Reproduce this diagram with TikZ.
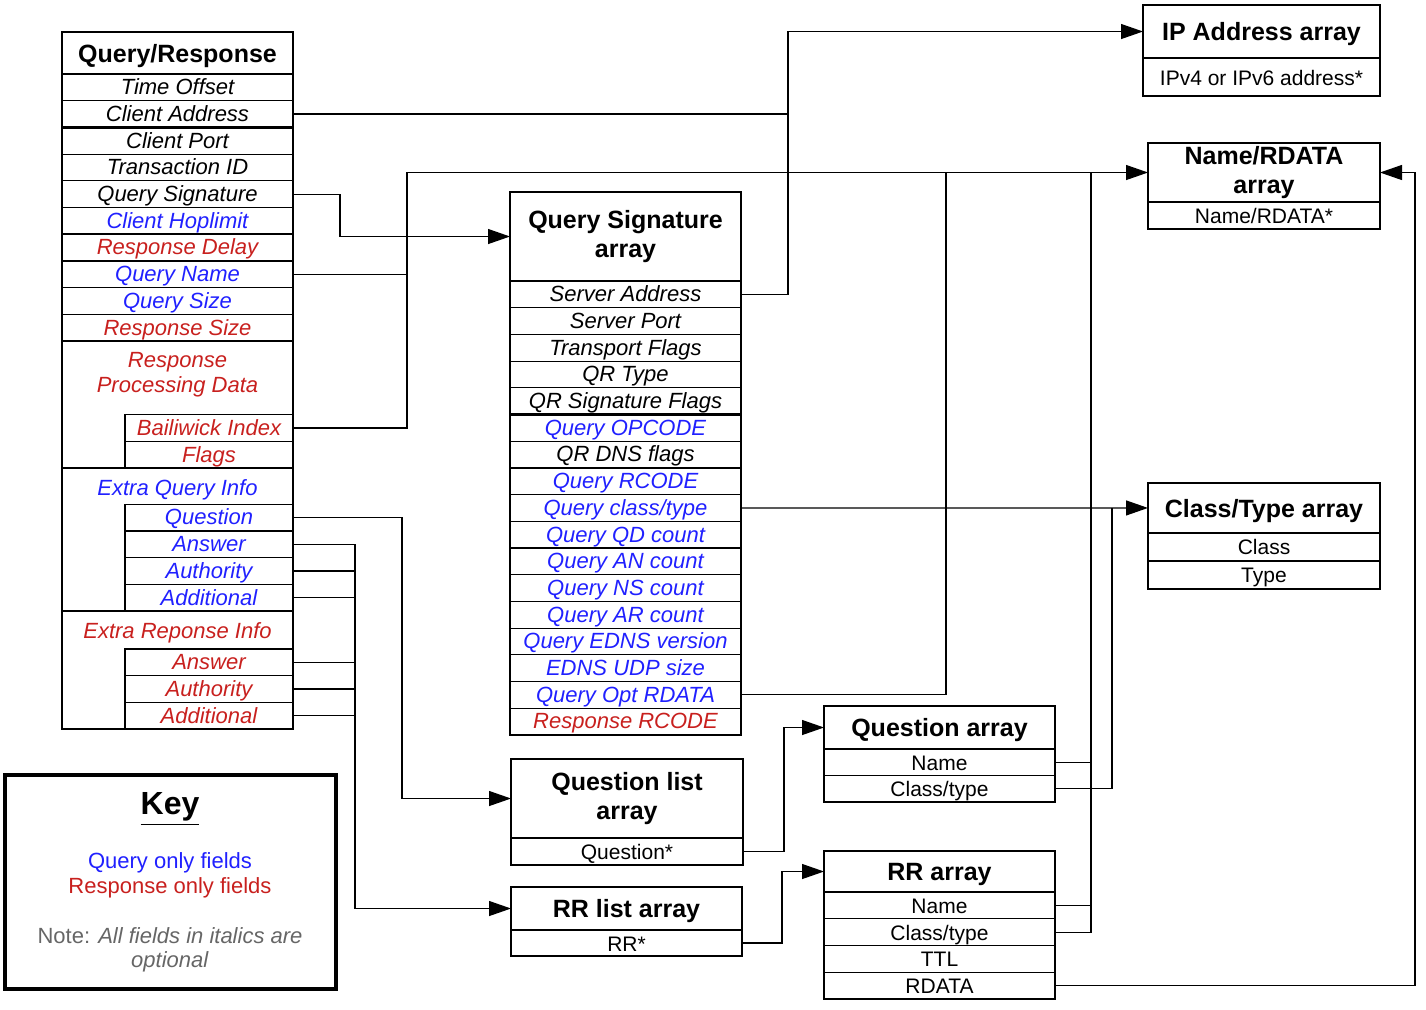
\documentclass[tikz,border=0pt]{standalone}
\usepackage{fontspec}
\setmainfont{Liberation Sans}
\usetikzlibrary{arrows.meta}
\definecolor{qblue}{RGB}{32,32,255}
\definecolor{rred}{RGB}{200,32,30}
\definecolor{notegray}{RGB}{102,102,102}
\newcommand{\tstrut}{\rule{0pt}{12pt}}
\tikzset{
  box/.style={draw,line width=0.6pt,inner sep=0pt,outer sep=0pt},
  fieldrow/.style={box,minimum height=13.35pt,text height=9.2pt,text depth=1.8pt,font=\fontsize{11}{13}\selectfont\itshape},
  wide/.style={minimum width=115.5pt},
  sub/.style={minimum width=84pt},
  arrtitle/.style={box,align=center,execute at begin node=\tstrut,font=\fontsize{12.5}{14.5}\selectfont\bfseries},
  arrrow/.style={box,text height=9pt,text depth=1pt,font=\fontsize{10.5}{12}\selectfont},
  blocklbl/.style={align=center,font=\fontsize{11}{12.5}\selectfont\itshape},
  link/.style={line width=0.6pt},
  arr/.style={link,-{Triangle[length=11pt,width=7.5pt]}}
}
\begin{document}
\begin{tikzpicture}[x=0.5pt,y=-0.5pt]
        \useasboundingbox (0,0) rectangle (1426,1009);
        \node[arrtitle,wide,minimum height=21pt] (qrtitle) at (177.5,53) {Query/Response};
        \foreach \c/\t [count=\i] in {black/Time Offset,black/Client Address,black/Client Port,black/Transaction ID,black/Query Signature,qblue/Client Hoplimit,rred/Response Delay,qblue/Query Name,qblue/Query Size,rred/Response Size}
          \node[fieldrow,wide,text=\c] (qr\i) at (177.5,{74+26.7*(\i-0.5)}) {\t};
        \node[box,wide,minimum height=63.5pt] (rpdblk) at (177.5,404.5) {};
        \node[box,wide,minimum height=71.5pt] (eqblk) at (177.5,539.5) {};
        \node[box,wide,minimum height=59pt] (erblk) at (177.5,670) {};
        \node[blocklbl,text=rred] (rpdlbl) at (177.5,375) {Response\\Processing Data};
        \node[blocklbl,text=qblue] (eqlbl) at (177.5,489.5) {Extra Query Info};
        \node[blocklbl,text=rred] (erlbl) at (177.5,632.5) {Extra Reponse Info};
        \foreach \t [count=\i] in {Bailiwick Index,Flags}
          \node[fieldrow,sub,text=rred] (rpd\i) at (209,{468-26.7*(2.5-\i)}) {\t};
        \foreach \t [count=\i] in {Question,Answer,Authority,Additional}
          \node[fieldrow,sub,text=qblue] (eq\i) at (209,{611-26.7*(4.5-\i)}) {\t};
        \foreach \t [count=\i] in {Answer,Authority,Additional}
          \node[fieldrow,sub,text=rred] (er\i) at (209,{729-26.7*(3.5-\i)}) {\t};
        \draw[line width=1.2pt] (qrtitle.south west) -- (qrtitle.south east) (qr2.south west) -- (qr2.south east) (qr6.south west) -- (qr6.south east);

        \node[arrtitle,wide,minimum height=44.5pt] (qstitle) at (625.5,236.5) {Query Signature\\array};
        \foreach \c/\t [count=\i] in {black/Server Address,black/Server Port,black/Transport Flags,black/QR Type,black/QR Signature Flags,qblue/Query OPCODE,black/QR DNS flags,qblue/Query RCODE,qblue/{Query class/type},qblue/Query QD count,qblue/Query AN count,qblue/Query NS count,qblue/Query AR count,qblue/Query EDNS version,qblue/EDNS UDP size,qblue/Query Opt RDATA,rred/Response RCODE}
          \node[fieldrow,wide,text=\c] (qs\i) at (625.5,{281+26.7*(\i-0.5)}) {\t};
        \draw[line width=1.2pt] (qs5.south west) -- (qs5.south east);

        \node[arrtitle,minimum width=118.5pt,minimum height=26.5pt] (iptitle) at (1261.5,31.5) {IP Address array};
        \node[arrrow,minimum width=118.5pt,minimum height=19pt] (iprow) at (1261.5,77) {IPv4 or IPv6 address*};
        \node[arrtitle,minimum width=116pt,minimum height=29.5pt] (nrtitle) at (1264,172.5) {Name/RDATA\\array};
        \node[arrrow,minimum width=116pt,minimum height=13.5pt] (nrrow) at (1264,215.5) {Name/RDATA*};
        \node[arrtitle,minimum width=116pt,minimum height=25pt] (cttitle) at (1264,507.95) {Class/Type array};
        \node[arrrow,minimum width=116pt,minimum height=14pt] (ctrow1) at (1264,546.95) {Class};
        \node[arrrow,minimum width=116pt,minimum height=14pt] (ctrow2) at (1264,574.95) {Type};

        \node[arrtitle,wide,minimum height=21.5pt] (qatitle) at (939.5,727.5) {Question array};
        \foreach \t [count=\i] in {Name,Class/type}
          \node[arrrow,wide,minimum height=13.25pt] (qarow\i) at (939.5,{749+26.5*(\i-0.5)}) {\t};
        \node[arrtitle,wide,minimum height=20.5pt] (rrtitle) at (939.5,871.5) {RR array};
        \foreach \t [count=\i] in {Name,Class/type,TTL,RDATA}
          \node[arrrow,wide,minimum height=13.375pt] (rrrow\i) at (939.5,{892+26.75*(\i-0.5)}) {\t};

        \node[arrtitle,minimum width=116pt,minimum height=39.5pt] (qltitle) at (627,798.5) {Question list\\array};
        \node[arrrow,minimum width=116pt,minimum height=13.5pt] (qlrow) at (627,851.5) {Question*};
        \node[arrtitle,wide,minimum height=21.5pt] (rltitle) at (626.5,908.5) {RR list array};
        \node[arrrow,wide,minimum height=13pt] (rlrow) at (626.5,943) {RR*};

        \node[draw,line width=2pt,minimum width=165.5pt,minimum height=107pt] (key) at (170.5,882) {};
        \node[font=\fontsize{16}{18}\selectfont\bfseries] (keyttl) at (170,809) {\underline{Key}};
        \node[font=\fontsize{11}{13}\selectfont,text=qblue] (keyq) at (170,862.5) {Query only fields};
        \node[font=\fontsize{11}{13}\selectfont,text=rred] (keyr) at (170,887.5) {Response only fields};
        \node[font=\fontsize{11}{12}\selectfont,text=notegray,align=center] (keynote) at (170,949.5) {Note: \textit{All fields in italics are}\\\textit{optional}};

        \coordinate (ipbus) at (788,31.5);
        \coordinate (nrbus) at (407,172.5);
        \coordinate (optbus) at (946,172.5);
        \coordinate (namebus) at (1091,172.5);
        \coordinate (ctbus) at (1112,507.95);
        \coordinate (rrbus) at (355,908.5);
        \draw[arr] (qr2.east) -| (ipbus) -- (iptitle.west);
        \draw[link] (qs1.east) -| (ipbus);
        \draw[arr] (qr5.east) -- ++(47,0) |- (qstitle.west);
        \draw[arr] (qr8.east) -| (nrbus) -- (nrtitle.west);
        \draw[link] (rpd1.east) -| (nrbus);
        \draw[link] (qs16.east) -| (optbus);
        \draw[link] (qarow1.east) -| (namebus) (rrrow1.east) -| (namebus) (rrrow2.east) -| (namebus);
        \draw[arr] (rrrow4.east) -- ++(360,0) |- (nrtitle.east);
        \draw[arr] (qs9.east) -- (cttitle.west);
        \draw[link] (qarow2.east) -| (ctbus);
        \draw[arr] (eq1.east) -- ++(109,0) |- (qltitle.west);
        \draw[arr] (eq2.east) -| (rrbus) -- (rltitle.west);
        \foreach \n in {eq3,eq4,er1,er2,er3}
          \draw[link] (\n.east) -| (rrbus);
        \draw[arr] (qlrow.east) -- ++(41,0) |- (qatitle.west);
        \draw[arr] (rlrow.east) -- ++(40,0) |- (rrtitle.west);
      \end{tikzpicture}
\end{document}
